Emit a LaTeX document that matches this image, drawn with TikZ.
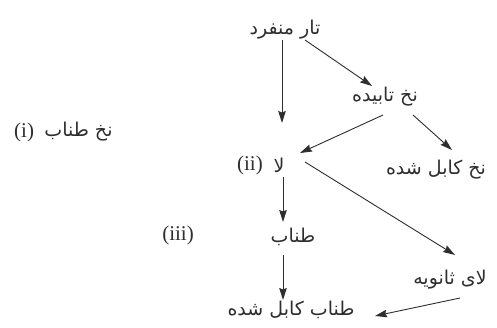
\documentclass[tikz,border=0pt]{standalone}
\usepackage{fontspec}
\setmainfont{Liberation Serif}
\newfontfamily\arabicfont[Script=Arabic]{DejaVu Sans}
\TeXXeTstate=1
\usetikzlibrary{arrows.meta,calc}
\newcommand{\ar}[1]{{\arabicfont\fontsize{19}{21}\selectfont\beginR #1\endR}}
\begin{document}
\begin{tikzpicture}[x=1pt,y=-1pt,
  lbl/.style={inner sep=0pt,font=\fontsize{21}{24}\selectfont,text=black!82},
  arr/.style={draw=black!82,line width=0.9pt,-{Stealth[length=12pt,width=7.5pt,inset=1.5pt]}}]
\useasboundingbox (0,0) rectangle (497,327);
\fill[white] (0,0) rectangle (497,327);
\node[lbl] (t1) at (285,30) {\ar{تار منفرد}};
\node[lbl] (t2) at (385,97) {\ar{نخ تابیده}};
\node[lbl] (t3) at (436,170) {\ar{نخ کابل شده}};
\node[lbl] (la) at (279,165) {\ar{لا}};
\node[lbl,anchor=east] (ii) at (263,165) {(ii)};
\node[lbl] (t5) at (293,237) {\ar{طناب}};
\node[lbl] (t6) at (450,280) {\ar{لای ثانویه}};
\node[lbl] (t7) at (291,310) {\ar{طناب کابل شده}};
\node[lbl] (iii) at (178,235) {(iii)};
\node[lbl,anchor=west] (i) at (14,132) {(i)};
\node[lbl,anchor=west] (nt) at ([xshift=10pt]i.east) {\ar{نخ طناب}};
\draw[arr] ($(t1)+(-3,10)$) -- ($(la)+(3,-42)$);
\draw[arr] ($(t1)+(20,10)$) -- ($(t2)+(-13,-11)$);
\draw[arr] ($(t2)+(-2,18)$) -- ($(la)+(21,-12)$);
\draw[arr] ($(t2)+(28,18)$) -- ($(t3)+(16,-20)$);
\draw[arr] ($(la)+(4,12)$) -- ($(t5)+(-10,-15)$);
\draw[arr] ($(la)+(26,-3)$) -- ($(t6)+(5,-25)$);
\draw[arr] ($(t5)+(-10,18)$) -- ($(t7)+(-8,-10)$);
\draw[arr] ($(t6)+(10,18)$) -- ($(t7)+(84,6)$);
\end{tikzpicture}
\end{document}
